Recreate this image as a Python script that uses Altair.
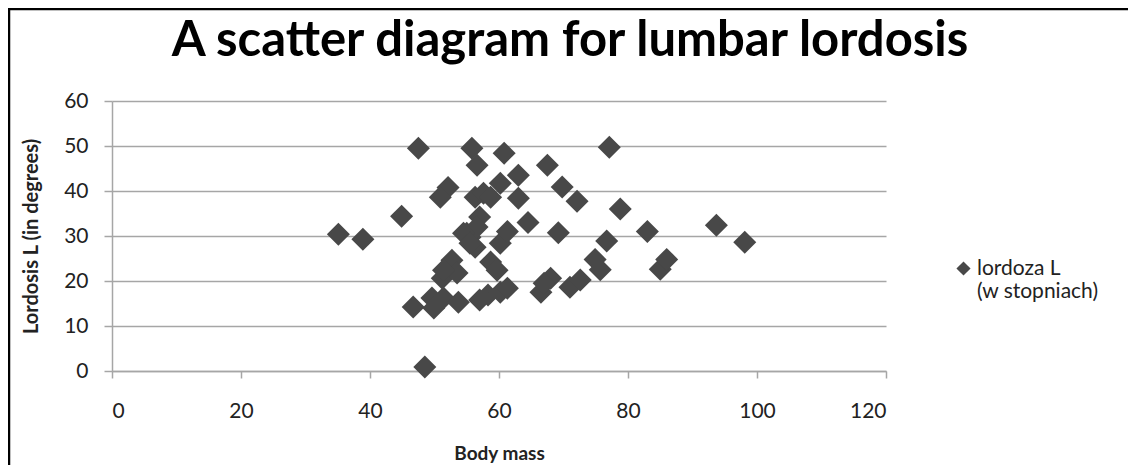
import altair as alt
import pandas as pd

# Body mass (x) and lumbar lordosis angle (y)
body_mass = [35.1, 38.9, 44.9, 47.5, 46.7, 48.5, 49.6, 49.9, 51.4, 52.1,
             50.9, 51.2, 52.7, 53.5, 53.7, 55.0, 55.5, 55.8, 56.3, 57.6,
             58.7, 56.6, 56.3, 57.0, 56.6, 57.0, 58.3, 58.7, 59.7, 60.2,
             60.2, 60.8, 61.3, 60.2, 61.3, 63.0, 63.0, 64.5, 66.5, 67.5,
             68.0, 69.2, 69.8, 71.0, 72.1, 72.6, 74.9, 75.7, 76.7, 77.1,
             78.8, 83.0, 85.0, 86.0, 93.7, 98.1, 54.5, 55.5, 51.4, 67.0]
lordosis = [30.4, 29.3, 34.4, 49.5, 14.2, 0.9, 16.2, 14.0, 16.2, 40.8,
            38.6, 20.6, 24.6, 21.8, 15.3, 30.6, 29.7, 49.5, 38.6, 39.5,
            38.6, 45.7, 27.5, 34.2, 32.0, 15.8, 16.9, 24.2, 22.4, 41.7,
            28.4, 48.4, 31.0, 17.5, 18.4, 43.5, 38.4, 33.0, 17.5, 45.7,
            20.6, 30.7, 40.9, 18.6, 37.7, 20.2, 24.8, 22.5, 28.9, 49.7,
            36.0, 31.0, 22.6, 24.8, 32.4, 28.6, 30.6, 28.4, 22.4, 19.5]
series_name = "lordoza L|(w stopniach)"

df = pd.DataFrame({"mass": body_mass, "lord": lordosis,
                   "series": [series_name] * len(body_mass)})

FONT = "Lato"
GRID = "#a6a6a6"
MARK = "#484848"

points = alt.Chart(df).mark_point(
    filled=True, shape="diamond", size=530, opacity=1
).encode(
    x=alt.X("mass:Q", title="Body mass",
            scale=alt.Scale(domain=[0, 120], nice=False),
            axis=alt.Axis(values=[0, 20, 40, 60, 80, 100, 120], grid=False,
                          tickSize=7, tickColor=GRID, domainColor=GRID,
                          domainWidth=1.5, tickWidth=1.5,
                          labelPadding=22, labelFontSize=21,
                          labelColor="#222222", labelFont=FONT,
                          titleFont=FONT, titleFontSize=19, titleFontWeight="bold",
                          titleColor="#222222", titlePadding=23)),
    y=alt.Y("lord:Q", title="Lordosis L (in degrees)",
            scale=alt.Scale(domain=[0, 60], nice=False),
            axis=alt.Axis(values=[0, 10, 20, 30, 40, 50, 60], grid=True,
                          gridColor=GRID, gridWidth=1.5,
                          tickSize=8, tickColor=GRID, domainColor=GRID,
                          domainWidth=1.5, tickWidth=1.5,
                          labelPadding=16, labelFontSize=21,
                          labelColor="#222222", labelFont=FONT,
                          titleFont=FONT, titleFontSize=20, titleFontWeight="bold",
                          titleColor="#222222", titlePadding=22)),
    color=alt.Color("series:N",
                    scale=alt.Scale(range=[MARK]),
                    legend=alt.Legend(title=None, orient="none",
                                      legendX=841, legendY=157,
                                      symbolType="diamond", symbolSize=200,
                                      symbolOpacity=1,
                                      labelFont=FONT, labelFontSize=21,
                                      labelColor="#222222", labelOffset=3,
                                      labelLimit=300, padding=0,
                                      labelExpr="split(datum.label, '|')")),
)

frame = alt.Chart(pd.DataFrame({"k": [0]})).mark_rect(
    fill=None, stroke="#000000", strokeWidth=2.5
).encode(
    x=alt.value(-103), x2=alt.value(1040),
    y=alt.value(-92), y2=alt.value(400),
)

chart = alt.layer(points, frame).properties(
    width=774, height=270,
    autosize=alt.AutoSizeParams(type="none"),
    padding={"left": 104, "top": 93, "right": 242, "bottom": 94},
    title=alt.Title("A scatter diagram for lumbar lordosis",
                    font=FONT, fontSize=49, fontWeight="bold",
                    color="#000000", anchor="middle", frame="group",
                    baseline="alphabetic", dx=71, dy=97, offset=0),
).configure_view(stroke=None)

chart.save("out.html", embed_options={"renderer": "svg", "actions": False})
